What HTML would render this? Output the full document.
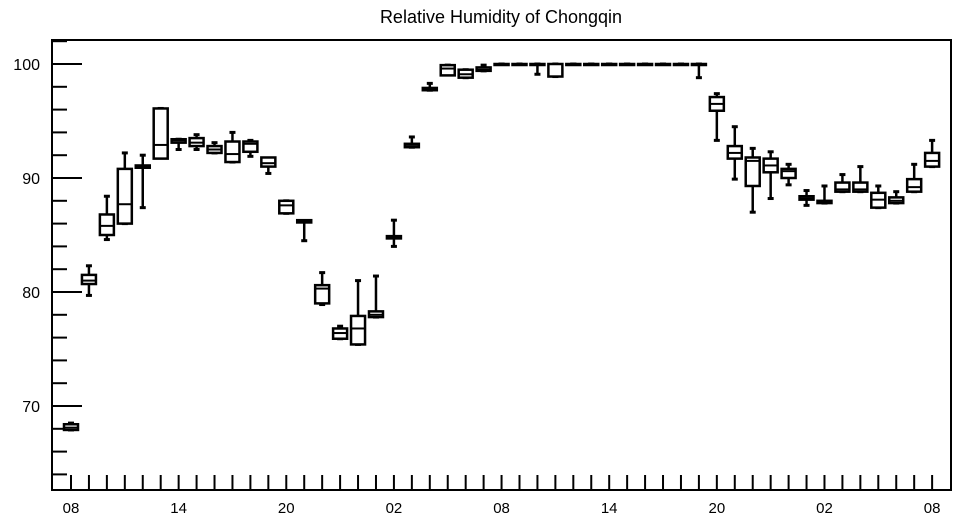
<!DOCTYPE html>
<html><head><meta charset="utf-8"><style>
body{margin:0;background:#fff;}
svg{display:block;font-family:"Liberation Sans",sans-serif;}
</style></head><body>
<svg id="chart" width="957" height="520" viewBox="0 0 957 520">
<text x="501" y="23" font-size="18" text-anchor="middle">Relative Humidity of Chongqin</text>
<rect x="52" y="40" width="899" height="450" fill="none" stroke="#000" stroke-width="2"/>
<g id="axes"></g><g id="boxes"></g>
</svg>
<script>
const hours=[0,1,2,3,4,5,6,7,8,9,10,11,12,13,14,15,16,17,18,19,20,21,22,23,24,25,26,27,28,29,30,31,32,33,34,35,36,37,38,39,40,41,42,43,44,45,46,47,48];
const q1=[67.9,80.7,85,86,90.9,91.7,93.1,92.8,92.2,91.4,92.3,91,86.9,86.1,79,75.9,75.4,77.8,84.7,92.7,97.7,99,98.8,99.4,100,100,100,98.9,100,100,100,100,100,100,100,100,95.9,91.7,89.3,90.5,90,88.1,87.8,88.8,88.8,87.4,87.8,88.8,91];
const med=[68.1,81,85.8,87.7,91,92.9,93.3,93.1,92.5,92.1,93,91.3,87.6,86.2,80.3,76.4,76.8,78,84.8,92.8,97.8,99.6,99.1,99.5,100,100,100,100,100,100,100,100,100,100,100,100,96.5,92.2,91.5,91.1,90.6,88.2,87.9,89,89,88.1,88,89.2,91.5];
const q3=[68.4,81.5,86.8,90.8,91.1,96.1,93.4,93.5,92.8,93.2,93.2,91.8,88,86.3,80.6,76.8,77.9,78.3,84.9,93,97.9,99.9,99.5,99.7,100,100,100,100,100,100,100,100,100,100,100,100,97.1,92.8,91.8,91.7,90.8,88.4,88,89.6,89.6,88.7,88.3,89.9,92.2];
const lo=[67.9,79.7,84.6,86,87.4,92.4,92.5,92.5,92.2,91.4,91.9,90.4,86.9,84.5,78.9,75.9,75.4,77.8,84,92.7,97.7,99.2,98.8,99.4,100,100,99.1,98.9,100,100,100,100,100,100,100,98.8,93.3,89.9,87,88.2,89.4,87.6,87.8,88.8,88.8,87.4,87.8,88.8,91];
const hi=[68.5,82.3,88.4,92.2,92,96.1,93.4,93.8,93.1,94,93.3,91.6,88,86.2,81.7,77,81,81.4,86.3,93.6,98.3,99.9,99.5,99.9,100,100,100,100,100,100,100,100,100,100,100,100,97.4,94.5,92.6,92.3,91.2,88.9,89.3,90.3,91,89.3,88.8,91.2,93.3];
const yTicks=[70,80,90,100];
const xLabels=["08","14","20","02","08","14","20","02","08"];
const NS="http://www.w3.org/2000/svg";
const X=h=>71+h*17.94;
const Y=v=>64+(100-v)*11.4;
function el(tag,attrs,parent){const e=document.createElementNS(NS,tag);for(const k in attrs)e.setAttribute(k,attrs[k]);parent.appendChild(e);return e;}
const ax=document.getElementById('axes'),bx=document.getElementById('boxes');
for(let v=64;v<=102;v+=2){const major=v%10===0;
 const t=el('line',{x1:52,x2:major?82:67,y1:Y(v),y2:Y(v),stroke:'#000','stroke-width':2},ax);
 
 }
yTicks.forEach(v=>{const t=el('text',{x:40,y:Y(v)+6,'font-size':16,'text-anchor':'end'},ax);t.textContent=v;
 
 });
for(let h=0;h<=48;h++){const t=el('line',{x1:X(h),x2:X(h),y1:490,y2:475,stroke:'#000','stroke-width':2},ax);
 
 }
xLabels.forEach((s,i)=>{const t=el('text',{x:X(i*6),y:513,'font-size':15,'text-anchor':'middle'},ax);t.textContent=s;
 
 });
hours.forEach((h,i)=>{const g=el('g',{},bx);
 
 
 const x=X(h),w=7;
 el('line',{x1:x,x2:x,y1:Y(hi[i]),y2:Y(lo[i]),stroke:'#000','stroke-width':2.5},g);
 el('line',{x1:x-3,x2:x+3,y1:Y(hi[i]),y2:Y(hi[i]),stroke:'#000','stroke-width':3},g);
 el('line',{x1:x-3,x2:x+3,y1:Y(lo[i]),y2:Y(lo[i]),stroke:'#000','stroke-width':3},g);
 const top=Y(q3[i]),bot=Y(q1[i]);
 el('rect',{x:x-w,y:top,width:2*w,height:Math.max(bot-top,1),fill:'#fff',stroke:'#000','stroke-width':2.5},g);
 el('line',{x1:x-w,x2:x+w,y1:Y(med[i]),y2:Y(med[i]),stroke:'#000','stroke-width':2},g);
});
</script>
</body></html>
